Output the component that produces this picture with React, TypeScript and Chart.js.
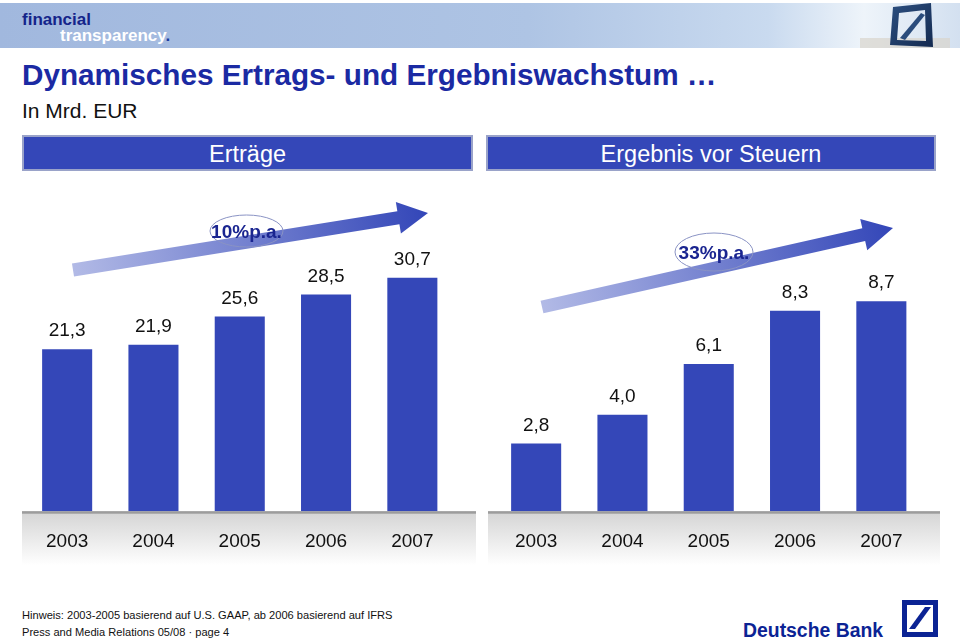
import React, { useEffect, useRef } from "react";
import { Chart, registerables } from "chart.js";

Chart.register(...registerables);

// ---- data ----
const years = ["2003", "2004", "2005", "2006", "2007"];
const ertraege = [21.3, 21.9, 25.6, 28.5, 30.7];
const ergebnis = [2.8, 4.0, 6.1, 8.3, 8.7];
const ertraegeMax = 40;
const ergebnisMax = 12.6;
const ertraegeGrowth = "10%p.a.";
const ergebnisGrowth = "33%p.a.";
const panelTitles = ["Erträge", "Ergebnis vor Steuern"];

const FONT = "Arial, 'Liberation Sans', Helvetica, sans-serif";
const BAR = "#3447b8";

const fmt = (v: number) => v.toFixed(1).replace(".", ",");

const decoPlugin = {
  id: "deco",
  beforeDraw(chart: any, _args: any, opts: any) {
    const { ctx, chartArea, width } = chart;
    const y0 = chartArea.bottom;
    ctx.save();
    const g = ctx.createLinearGradient(0, y0, 0, y0 + 54);
    g.addColorStop(0, "#d4d4d4");
    g.addColorStop(1, "#ffffff");
    ctx.fillStyle = g;
    ctx.fillRect(0, y0, width, 54);
    ctx.fillStyle = "#9c9c9c";
    ctx.fillRect(0, y0, width, 2.5);
    ctx.restore();
  },
  afterDatasetsDraw(chart: any, _args: any, opts: any) {
    const { ctx } = chart;
    const meta = chart.getDatasetMeta(0);
    const vals = chart.data.datasets[0].data as number[];
    ctx.save();
    ctx.fillStyle = "#111";
    ctx.font = `19px ${FONT}`;
    ctx.textAlign = "center";
    ctx.textBaseline = "middle";
    meta.data.forEach((bar: any, i: number) => {
      ctx.fillText(fmt(vals[i]), bar.x, bar.y - 18);
    });
    // arrow
    const a = opts.arrow;
    if (a) {
      const dx = a.x2 - a.x1, dy = a.y2 - a.y1;
      const len = Math.hypot(dx, dy);
      const ux = dx / len, uy = dy / len;
      const nx = -uy, ny = ux;
      const hw = 6.5, hl = 30, hh = 16;
      const bx = a.x2 - ux * hl, by = a.y2 - uy * hl;
      const grad = ctx.createLinearGradient(a.x1, a.y1, a.x2, a.y2);
      grad.addColorStop(0, "#b2bae6");
      grad.addColorStop(1, "#3346b8");
      ctx.fillStyle = grad;
      ctx.beginPath();
      ctx.moveTo(a.x1 + nx * hw, a.y1 + ny * hw);
      ctx.lineTo(bx + nx * hw, by + ny * hw);
      ctx.lineTo(bx + nx * hh, by + ny * hh);
      ctx.lineTo(a.x2, a.y2);
      ctx.lineTo(bx - nx * hh, by - ny * hh);
      ctx.lineTo(bx - nx * hw, by - ny * hw);
      ctx.lineTo(a.x1 - nx * hw, a.y1 - ny * hw);
      ctx.closePath();
      ctx.fill();
    }
    const e = opts.ellipse;
    if (e) {
      ctx.strokeStyle = "#8a93c4";
      ctx.lineWidth = 1;
      ctx.beginPath();
      ctx.ellipse(e.cx, e.cy, e.rx, e.ry, 0, 0, Math.PI * 2);
      ctx.stroke();
      ctx.fillStyle = "#1a2590";
      ctx.font = `bold 19px ${FONT}`;
      ctx.fillText(e.text, e.cx, e.cy + 1.5);
    }
    ctx.restore();
  },
};

function makeChart(
  canvas: HTMLCanvasElement,
  values: number[],
  max: number,
  deco: any,
  padL: number,
  padR: number
) {
  return new Chart(canvas, {
    type: "bar",
    data: {
      labels: years,
      datasets: [
        {
          data: values,
          backgroundColor: BAR,
          borderWidth: 0,
          barPercentage: 0.58,
          categoryPercentage: 1,
        },
      ],
    },
    options: {
      animation: false,
      responsive: false,
      maintainAspectRatio: false,
      layout: { padding: { left: padL, right: padR, top: 27, bottom: 8 } },
      plugins: {
        legend: { display: false },
        tooltip: { enabled: false },
        deco,
      } as any,
      scales: {
        x: {
          grid: { display: false, drawTicks: false },
          border: { display: false },
          ticks: { padding: 19, color: "#111", font: { family: FONT, size: 19 } },
        },
        y: { display: false, min: 0, max },
      },
    },
    plugins: [decoPlugin as any],
  });
}

export default function App() {
  const leftRef = useRef<HTMLCanvasElement>(null);
  const rightRef = useRef<HTMLCanvasElement>(null);

  useEffect(() => {
    const c1 = makeChart(
      leftRef.current!,
      ertraege,
      ertraegeMax,
      {
        arrow: { x1: 51, y1: 90, x2: 406, y2: 33 },
        ellipse: { cx: 224.5, cy: 51, rx: 36.5, ry: 16, text: ertraegeGrowth },
      },
      2,
      20.5
    );
    const c2 = makeChart(
      rightRef.current!,
      ergebnis,
      ergebnisMax,
      {
        arrow: { x1: 54, y1: 127, x2: 405, y2: 48 },
        ellipse: { cx: 226, cy: 72, rx: 39, ry: 19, text: ergebnisGrowth },
      },
      5,
      15.5
    );
    return () => {
      c1.destroy();
      c2.destroy();
    };
  }, []);

  return (
    <div
      style={{
        position: "fixed",
        left: 0,
        top: 0,
        width: 960,
        height: 640,
        background: "#fff",
        overflow: "hidden",
      }}
    >
      <svg width={960} height={640} style={{ position: "absolute", left: 0, top: 0 }}>
        <defs>
          <linearGradient id="hdr" x1="0" x2="1" y1="0" y2="0">
            <stop offset="0" stopColor="#a1b8de" />
            <stop offset="0.55" stopColor="#aec4e4" />
            <stop offset="0.8" stopColor="#c9daef" />
            <stop offset="0.9" stopColor="#eef4fa" />
            <stop offset="1" stopColor="#d3e0f0" />
          </linearGradient>
          <linearGradient id="logo3d" x1="0" x2="1" y1="0" y2="1">
            <stop offset="0" stopColor="#2c4f80" />
            <stop offset="1" stopColor="#142a50" />
          </linearGradient>
        </defs>
        <rect x={0} y={3} width={960} height={45} fill="url(#hdr)" />
        <rect x={860} y={38} width={90} height={10} fill="#d8d4cc" opacity={0.7} />
        <path
          d="M893 7 L931 3 L933 47 L890 45 Z M899 13 L925 10 L926 41 L897 40 Z"
          fill="url(#logo3d)"
          fillRule="evenodd"
        />
        <path d="M900 38 L921 13 L925 15 L905 40 Z" fill="#2a4c7c" />
        <text x={22} y={25} fontFamily={FONT} fontWeight="bold" fontSize={17} fill="#14248a">
          financial
        </text>
        <text x={60} y={41} fontFamily={FONT} fontWeight="bold" fontSize={17} fill="#ffffff">
          transparency<tspan fill="#1a3aa0">.</tspan>
        </text>

        <text x={22} y={85} fontFamily={FONT} fontWeight="bold" fontSize={29.7} fill="#1b2aa3">
          Dynamisches Ertrags- und Ergebniswachstum …
        </text>
        <text x={22} y={118} fontFamily={FONT} fontSize={21} fill="#111">
          In Mrd. EUR
        </text>

        <rect x={23} y={136} width={449} height={34} fill={BAR} stroke="#9aa3c9" strokeWidth={2} />
        <text
          x={247.5}
          y={161.5}
          textAnchor="middle"
          fontFamily={FONT}
          fontSize={23.5}
          fill="#fff"
        >
          {panelTitles[0]}
        </text>
        <rect x={487} y={136} width={448} height={34} fill={BAR} stroke="#9aa3c9" strokeWidth={2} />
        <text
          x={711}
          y={161.5}
          textAnchor="middle"
          fontFamily={FONT}
          fontSize={23.5}
          fill="#fff"
        >
          {panelTitles[1]}
        </text>

        <text x={22} y={619} fontFamily={FONT} fontSize={11.1} fill="#111">
          Hinweis: 2003-2005 basierend auf U.S. GAAP, ab 2006 basierend auf IFRS
        </text>
        <text x={22} y={636} fontFamily={FONT} fontSize={11.1} fill="#111">
          Press and Media Relations 05/08 · page 4
        </text>

        <text x={743} y={637} fontFamily={FONT} fontWeight="bold" fontSize={19.4} fill="#0b2394">
          Deutsche Bank
        </text>
        <rect x={904.5} y={602.5} width={31} height={32} fill="none" stroke="#0b2394" strokeWidth={5} />
        <path d="M909 629 L925 607 L931 607 L915 629 Z" fill="#0b2394" />
      </svg>

      <div style={{ position: "absolute", left: 22, top: 180, width: 454, height: 400 }}>
        <canvas ref={leftRef} width={454} height={400} />
      </div>
      <div style={{ position: "absolute", left: 488, top: 180, width: 452, height: 400 }}>
        <canvas ref={rightRef} width={452} height={400} />
      </div>
    </div>
  );
}
